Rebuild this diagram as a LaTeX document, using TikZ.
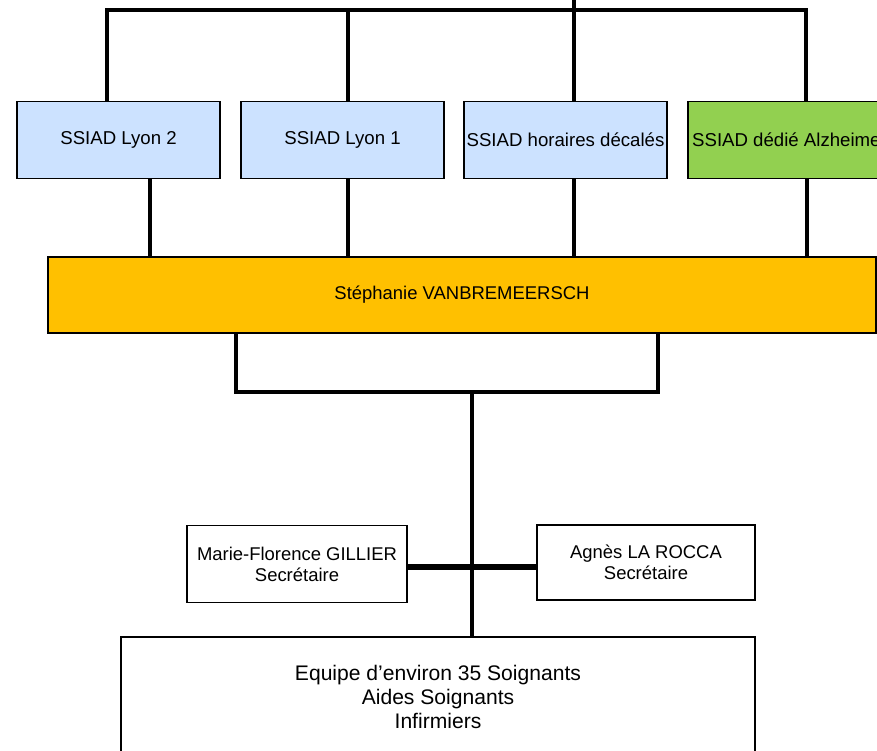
\documentclass[tikz,border=0pt]{standalone}
\usepackage{fontspec}
\setmainfont{Liberation Sans}
\usetikzlibrary{positioning,calc}
\definecolor{orgBlue}{RGB}{204,226,255}
\definecolor{orgGreen}{RGB}{146,208,80}
\definecolor{orgGold}{RGB}{255,192,0}
\tikzset{
    base/.style={align=center, text=black, inner sep=1pt},
    service/.style={base, rectangle, draw=black, line width=1.1pt, fill=orgBlue,
                    minimum width=4.06cm, minimum height=1.54cm, font=\fontsize{10.6}{12}\selectfont},
    head/.style={base, rectangle, draw=black, line width=1.1pt, fill=orgGold,
                 minimum width=16.56cm, minimum height=1.52cm, font=\fontsize{10.5}{12.5}\selectfont},
    staff/.style={base, rectangle, draw=black, line width=1.1pt, fill=white,
                  minimum height=1.54cm, font=\fontsize{10.5}{12}\selectfont},
    team/.style={base, rectangle, draw=black, line width=1.1pt, fill=white,
                 minimum width=12.68cm, minimum height=2.4cm, font=\fontsize{12}{13.4}\selectfont},
    link/.style={draw=black, line width=2.5pt},
    slink/.style={draw=black, line width=3.5pt}
}
\begin{document}
\begin{tikzpicture}
  \useasboundingbox (0,0) rectangle (17.54,-15);
  \clip (0,0) rectangle (17.54,-15);

  % Services
  \node[service] (lyonB) at (2.37,-2.8) {SSIAD Lyon 2};
  \node[service] (lyonA) at (6.85,-2.8) {SSIAD Lyon 1};
  \node[service] (decal) at (11.31,-2.8) {SSIAD horaires décalés};
  \node[service, fill=orgGreen] (alz) at (15.79,-2.8) {SSIAD dédié Alzheimer};

  % Head
  \node[head] (chief) at (9.24,-5.9) {Stéphanie VANBREMEERSCH};

  % Secretaries and team
  \node[staff, minimum width=4.4cm] (secL) at (5.94,-11.28) {Marie-Florence GILLIER\\Secrétaire};
  \node[staff, minimum width=4.36cm, minimum height=1.5cm] (secR) at (12.92,-11.25) {Agnès LA ROCCA\\Secrétaire};
  \node[team] (team) at (8.76,-13.94) {Equipe d’environ 35 Soignants\\Aides Soignants\\Infirmiers};

  % Top bus
  \coordinate (topIn) at (11.48,0);
  \coordinate (busL) at (2.14,-0.2);
  \coordinate (busM) at (6.96,-0.2);
  \coordinate (busR) at (16.12,-0.2);
  \draw[link] (busL |- lyonB.north) -- (busL) -- (busR) -- (busR |- alz.north);
  \draw[link] (busM) -- (busM |- lyonA.north);
  \draw[link] (topIn) -- (topIn |- decal.north);

  % Services to head
  \foreach \n/\x in {lyonB/3.0, lyonA/6.96, decal/11.48, alz/16.14} {
    \coordinate (d\n) at (\x,0);
    \draw[link] (d\n |- \n.south) -- (d\n |- chief.north);
  }

  % Head to team
  \coordinate (forkL) at (4.72,-7.84);
  \coordinate (forkR) at (13.16,-7.84);
  \coordinate (hub) at (9.44,-7.84);
  \coordinate (sec) at (9.44,-11.34);
  \draw[link] (forkL |- chief.south) -- (forkL) -- (forkR) -- (forkR |- chief.south);
  \draw[link] (hub) -- (hub |- team.north);
  \draw[slink] (secL.east |- sec) -- (secR.west |- sec);
\end{tikzpicture}
\end{document}
